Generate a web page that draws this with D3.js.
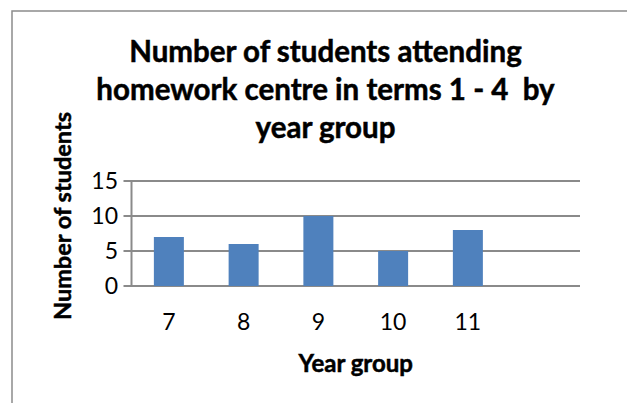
<!DOCTYPE html>
<html>
<head>
<meta charset="utf-8" />
<script src="https://cdnjs.cloudflare.com/ajax/libs/d3/7.8.5/d3.min.js"></script>
<style>
html, body { margin: 0; padding: 0; background: #fff; }
svg text { font-family: Lato, 'Open Sans', sans-serif; fill: #000; }
svg text.bold { font-weight: bold; stroke: #000; stroke-width: 0.5px; }
</style>
</head>
<body>
<svg id="chart" width="627" height="403"></svg>
<script>
// data
var yearGroups = ["7", "8", "9", "10", "11", ""];
var students = [7, 6, 10, 5, 8];
var yTicks = [0, 5, 10, 15];
var titleLines = ["Number of students attending", "homework centre in terms 1 - 4  by", "year group"];

var svg = d3.select("#chart");

// outer frame (only top/left edges show)
svg.append("rect")
  .attr("x", 12).attr("y", 11)
  .attr("width", 640).attr("height", 420)
  .attr("fill", "none")
  .attr("stroke", "#8c8c8c")
  .attr("stroke-width", 1.5);

var plotL = 131.5, plotR = 580, plotT = 181, plotB = 286;

var x = d3.scaleBand().domain(d3.range(yearGroups.length)).range([plotL, plotR]);
var y = d3.scaleLinear().domain([0, 15]).range([plotB, plotT]);

// gridlines + y ticks
svg.append("g").selectAll("line")
  .data(yTicks)
  .enter().append("line")
  .attr("x1", plotL - 8).attr("x2", plotR)
  .attr("y1", function(d) { return y(d); })
  .attr("y2", function(d) { return y(d); })
  .attr("stroke", "#8a8a8a")
  .attr("stroke-width", 2);

svg.append("line")
  .attr("x1", plotL).attr("x2", plotL)
  .attr("y1", plotT).attr("y2", plotB)
  .attr("stroke", "#8a8a8a")
  .attr("stroke-width", 2);

// bars
var barW = 30;
svg.append("g").selectAll("rect")
  .data(students)
  .enter().append("rect")
  .attr("x", function(d, i) { return x(i) + x.bandwidth() / 2 - barW / 2; })
  .attr("y", function(d) { return y(d); })
  .attr("width", barW)
  .attr("height", function(d) { return y(0) - y(d); })
  .attr("fill", "#4f81bd");

// y tick labels
svg.append("g").selectAll("text")
  .data(yTicks)
  .enter().append("text")
  .attr("x", 118)
  .attr("y", function(d) { return y(d); })
  .attr("dy", "0.36em")
  .attr("text-anchor", "end")
  .style("font-size", "23px")
  .text(function(d) { return d; });

// x tick labels
svg.append("g").selectAll("text")
  .data(yearGroups)
  .enter().append("text")
  .attr("x", function(d, i) { return x(i) + x.bandwidth() / 2; })
  .attr("y", 330)
  .attr("text-anchor", "middle")
  .style("font-size", "23px")
  .text(function(d) { return d; });

// axis titles
svg.append("text")
  .attr("class", "bold")
  .attr("x", (plotL + plotR) / 2)
  .attr("y", 372)
  .attr("text-anchor", "middle")
  .style("font-size", "24px")
  .text("Year group");

svg.append("text")
  .attr("class", "bold")
  .attr("transform", "translate(71,216) rotate(-90)")
  .attr("text-anchor", "middle")
  .style("font-size", "23.5px")
  .text("Number of students");

// title
svg.append("g").selectAll("text")
  .data(titleLines)
  .enter().append("text")
  .attr("class", "bold")
  .attr("x", 325.5)
  .attr("y", function(d, i) { return 62 + i * 38; })
  .attr("text-anchor", "middle")
  .style("font-size", "29.5px")
  .style("white-space", "pre")
  .text(function(d) { return d; });
</script>
</body>
</html>
